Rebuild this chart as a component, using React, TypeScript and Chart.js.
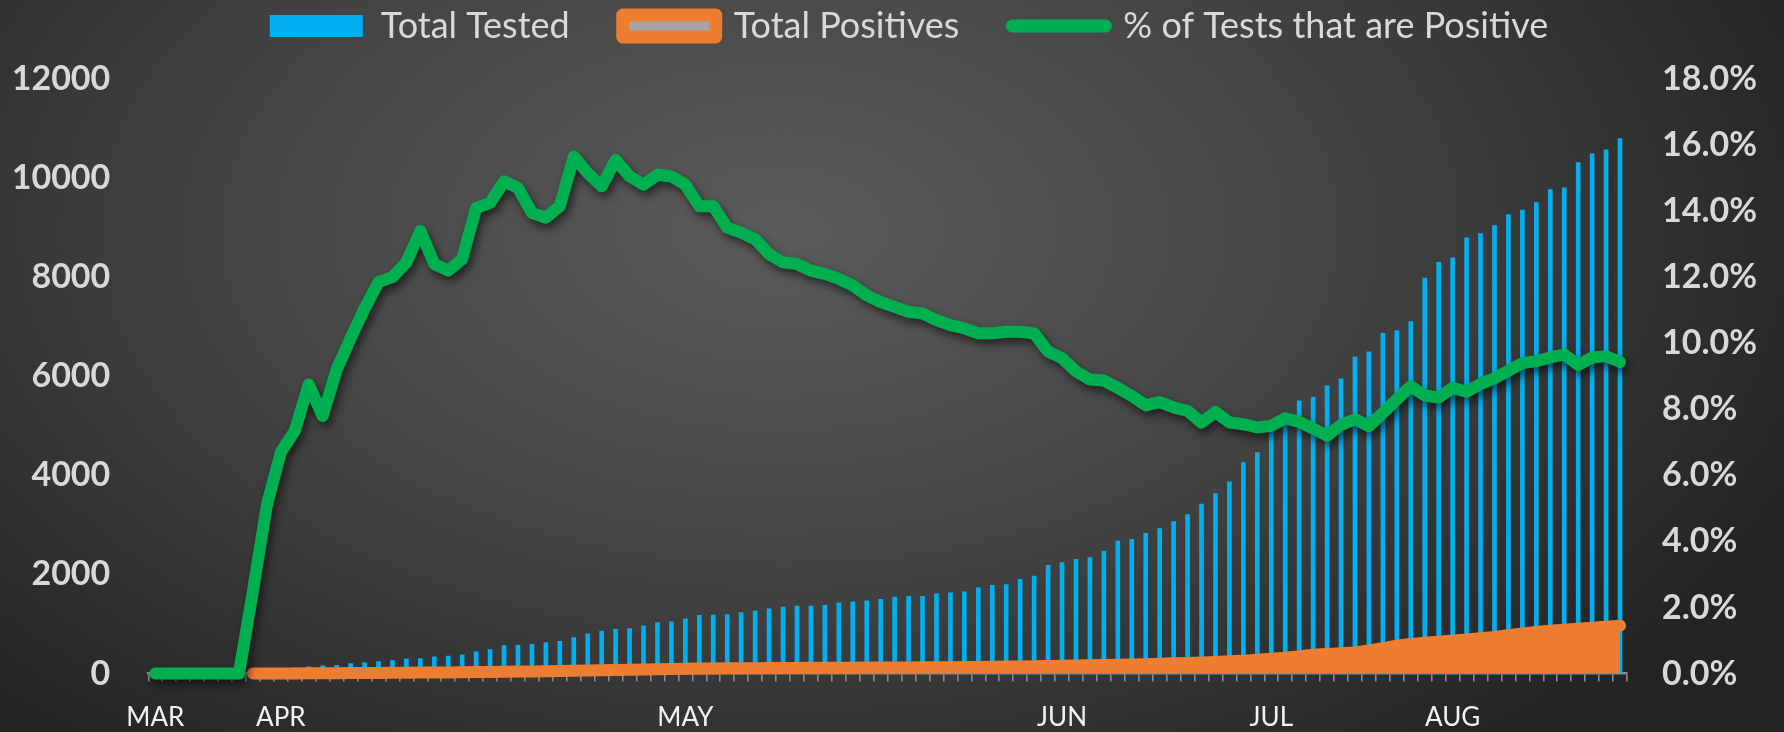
import React, { useEffect, useRef } from 'react';
import { Chart, registerables } from 'chart.js';

Chart.register(...registerables);

// ---------- data ----------
const monthNames = ['MAR', 'APR', 'MAY', 'JUN', 'JUL', 'AUG'];
const monthStartIndex = [0, 9, 38, 65, 80, 93];

const seriesNames = ['Total Tested', 'Total Positives', '% of Tests that are Positive'];

const totalTested = [
  null, null, null, null, null, null, null,
  30, 60, 95, 115, 137, 158, 165, 202, 215, 242,
  262, 296, 305, 336, 356, 378, 437, 484, 568, 570,
  592, 628, 650, 728, 801, 859, 895, 910, 966, 1031,
  1047, 1103, 1176, 1180, 1190, 1232, 1262, 1305, 1341, 1363,
  1365, 1378, 1428, 1450, 1470, 1501, 1543, 1557, 1560, 1608,
  1630, 1652, 1731, 1781, 1795, 1904, 1969, 2184, 2241, 2307,
  2342, 2473, 2675, 2711, 2832, 2927, 3070, 3207, 3423, 3633,
  3871, 4260, 4462, 5000, 5150, 5506, 5574, 5807, 5950, 6390,
  6493, 6868, 6921, 7105, 7983, 8300, 8391, 8794, 8879, 9040,
  9264, 9357, 9504, 9766, 9805, 10313, 10491, 10569, 10799,
];

const totalPositives = [
  null, null, null, null, null, null, null,
  1, 2, 3, 4, 6, 7, 8, 10, 12, 14,
  16, 18, 20, 22, 24, 26, 30, 33, 38, 40,
  42, 45, 50, 58, 62, 67, 72, 78, 82, 88,
  92, 97, 102, 104, 106, 108, 110, 112, 114, 115,
  116, 117, 119, 120, 121, 122, 124, 125, 126, 128,
  130, 132, 135, 138, 141, 145, 149, 155, 160, 165,
  170, 175, 180, 185, 190, 198, 207, 216, 226, 236,
  248, 262, 280, 300, 322, 345, 380, 395, 410, 428,
  470, 515, 565, 600, 622, 645, 668, 690, 715, 740,
  775, 810, 840, 865, 885, 905, 925, 945, 968,
];

const pctPositive = [
  0, 0, 0, 0, 0, 0, 0,
  2.5, 5.1, 6.7, 7.35, 8.75, 7.8, 9.2, 10.15, 11.05, 11.85,
  12.0, 12.45, 13.4, 12.4, 12.2, 12.55, 14.1, 14.25, 14.9, 14.7,
  13.95, 13.8, 14.15, 15.65, 15.15, 14.75, 15.55, 15.05, 14.8, 15.1,
  15.05, 14.8, 14.15, 14.15, 13.5, 13.35, 13.15, 12.7, 12.45, 12.4,
  12.2, 12.1, 11.95, 11.75, 11.45, 11.25, 11.1, 10.95, 10.9, 10.7,
  10.55, 10.45, 10.3, 10.3, 10.35, 10.35, 10.3, 9.75, 9.55, 9.15,
  8.9, 8.87, 8.65, 8.4, 8.12, 8.22, 8.06, 7.95, 7.6, 7.92,
  7.6, 7.55, 7.45, 7.5, 7.73, 7.62, 7.42, 7.2, 7.53, 7.7,
  7.49, 7.89, 8.3, 8.7, 8.42, 8.36, 8.65, 8.53, 8.77, 8.94,
  9.17, 9.4, 9.46, 9.57, 9.66, 9.34, 9.57, 9.61, 9.43,
];

const leftTicks = { min: 0, max: 12000, step: 2000 };
const rightTicks = { min: 0, max: 18, step: 2 };

// ---------- styles ----------
const BLUE = '#00B0F0';
const ORANGE = '#ED7D31';
const GREEN = '#00B050';
const GRAY = '#A5A5A5';
const AXIS = '#8A8A8A';
const TEXT = '#D9D9D9';
const FONT = 'Lato, "Open Sans", sans-serif';

export default function App() {
  const ref = useRef<HTMLCanvasElement>(null);

  useEffect(() => {
    const canvas = ref.current;
    if (!canvas) return;

    const categoryLabels = totalTested.map((_, i) => {
      const k = monthStartIndex.indexOf(i);
      return k >= 0 ? monthNames[k] : '';
    });

    const bgPlugin = {
      id: 'bgGradient',
      beforeDraw(chart: any) {
        const { ctx, width, height } = chart;
        ctx.save();
        const cx = 780;
        const cy = 230;
        const sy = 0.6;
        ctx.translate(cx, cy);
        ctx.scale(1, sy);
        const g = ctx.createRadialGradient(0, 0, 0, 0, 0, 1100);
        g.addColorStop(0, '#5b5b5b');
        g.addColorStop(0.5, '#444444');
        g.addColorStop(1, '#242424');
        ctx.fillStyle = g;
        ctx.fillRect(-cx, -cy / sy, width, height / sy);
        ctx.restore();
      },
    };

    const shadowPlugin = {
      id: 'lineShadow',
      beforeDatasetDraw(chart: any, args: any) {
        if (args.index === 2) {
          const c = chart.ctx;
          c.save();
          c.shadowColor = 'rgba(0,0,0,0.55)';
          c.shadowBlur = 8;
          c.shadowOffsetX = 3;
          c.shadowOffsetY = 5;
        }
      },
      afterDatasetDraw(chart: any, args: any) {
        if (args.index === 2) chart.ctx.restore();
      },
    };

    const chart = new Chart(canvas, {
      type: 'bar',
      data: {
        labels: categoryLabels,
        datasets: [
          {
            type: 'bar',
            label: seriesNames[0],
            data: totalTested,
            backgroundColor: BLUE,
            barThickness: 4,
            yAxisID: 'y',
            order: 2,
          } as any,
          {
            type: 'line',
            label: seriesNames[1],
            data: totalPositives,
            borderColor: ORANGE,
            backgroundColor: ORANGE,
            borderWidth: 12,
            borderJoinStyle: 'round',
            borderCapStyle: 'round',
            fill: 'origin',
            pointRadius: 0,
            tension: 0,
            yAxisID: 'y',
            order: 1,
            clip: false,
          } as any,
          {
            type: 'line',
            label: seriesNames[2],
            data: pctPositive,
            borderColor: GREEN,
            backgroundColor: GREEN,
            borderWidth: 12,
            borderJoinStyle: 'round',
            borderCapStyle: 'round',
            fill: false,
            pointRadius: 0,
            tension: 0,
            yAxisID: 'y1',
            order: 0,
            clip: false,
          } as any,
        ],
      },
      options: {
        responsive: false,
        animation: false,
        events: [],
        layout: { padding: { top: -45, left: 0, right: -34, bottom: 0 } },
        plugins: {
          tooltip: { enabled: false },
          legend: {
            display: true,
            position: 'top',
            labels: {
              usePointStyle: true,
              pointStyleWidth: 93,
              boxHeight: 22,
              padding: 53,
              color: TEXT,
              font: { family: FONT, size: 36 },
              generateLabels: () => [
                {
                  text: seriesNames[0],
                  fillStyle: BLUE,
                  strokeStyle: BLUE,
                  lineWidth: 0,
                  pointStyle: 'rect',
                  datasetIndex: 0,
                  fontColor: TEXT,
                },
                {
                  text: seriesNames[1],
                  fillStyle: GRAY,
                  strokeStyle: ORANGE,
                  lineWidth: 13,
                  lineJoin: 'round',
                  pointStyle: 'rect',
                  datasetIndex: 1,
                  fontColor: TEXT,
                },
                {
                  text: seriesNames[2],
                  fillStyle: GREEN,
                  strokeStyle: GREEN,
                  lineWidth: 13,
                  lineCap: 'round',
                  pointStyle: 'line',
                  datasetIndex: 2,
                  fontColor: TEXT,
                },
              ],
            },
          },
        },
        scales: {
          x: {
            type: 'category',
            position: 'bottom',
            offset: true,
            grid: {
              display: true,
              offset: true,
              drawOnChartArea: false,
              drawTicks: true,
              tickLength: 8,
              color: AXIS,
              lineWidth: 1.6,
            },
            border: { display: true, color: AXIS, width: 2.5 },
            ticks: {
              autoSkip: false,
              maxRotation: 0,
              minRotation: 0,
              color: '#F2F2F2',
              padding: 20,
              font: { family: FONT, size: 26 },
            },
            afterFit: (s: any) => {
              s.height = 58;
            },
          },
          xTop: {
            type: 'category',
            position: 'top',
            display: true,
            grid: { display: false, drawTicks: false },
            border: { display: false },
            ticks: { display: false },
            afterFit: (s: any) => {
              s.height = 25;
            },
          },
          y: {
            type: 'linear',
            position: 'left',
            min: leftTicks.min,
            max: leftTicks.max,
            grid: { display: false, drawTicks: false },
            border: { display: false },
            ticks: {
              stepSize: leftTicks.step,
              color: TEXT,
              padding: 38,
              font: { family: FONT, size: 34, weight: 'bold' },
              callback: (v: any) => String(v),
            },
            afterFit: (s: any) => {
              s.width = 148.3;
            },
          },
          y1: {
            type: 'linear',
            position: 'right',
            min: rightTicks.min,
            max: rightTicks.max,
            grid: { display: false, drawTicks: false },
            border: { display: false },
            ticks: {
              stepSize: rightTicks.step,
              color: TEXT,
              padding: 35,
              font: { family: FONT, size: 34, weight: 'bold' },
              callback: (v: any) => Number(v).toFixed(1) + '%',
            },
            afterFit: (s: any) => {
              s.width = 191;
            },
          },
        },
      } as any,
      plugins: [bgPlugin, shadowPlugin],
    });

    return () => {
      chart.destroy();
    };
  }, []);

  return (
    <div style={{ position: 'fixed', left: 0, top: 0, width: 1784, height: 732, overflow: 'hidden' }}>
      <canvas ref={ref} width={1784} height={732} style={{ display: 'block', width: 1784, height: 732 }} />
    </div>
  );
}
